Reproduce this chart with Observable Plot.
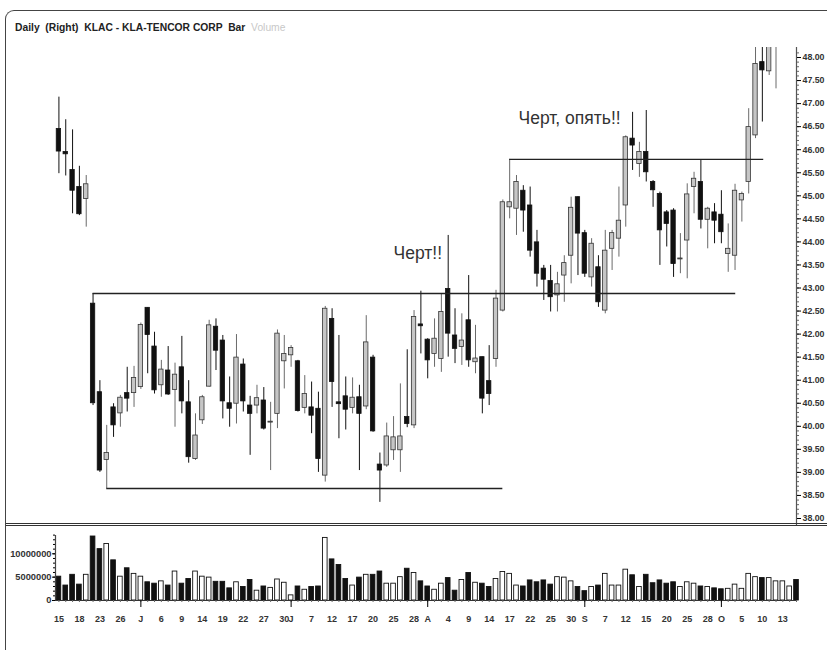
<!DOCTYPE html>
<html><head><meta charset="utf-8">
<script src="https://cdn.jsdelivr.net/npm/d3@7"></script>
<script src="https://cdn.jsdelivr.net/npm/@observablehq/plot@0.6"></script>
<style>
html,body{margin:0;padding:0;background:#fff;overflow:hidden}
#wrap{position:relative;width:827px;height:650px;overflow:hidden;background:#fff;font-family:"Liberation Sans",Arial,sans-serif}
#price{position:absolute;left:0;top:0}
#vol{position:absolute;left:0;top:526px}
#frame{position:absolute;left:5px;top:10px;width:900px;height:700px;border-left:1.5px solid #444;border-top:1.5px solid #444;border-top-left-radius:9px;pointer-events:none}
#divider{position:absolute;left:5px;top:523px;width:830px;height:0;border-top:1.5px solid #333;border-bottom:1.5px solid #333;padding-top:1px}
#title{position:absolute;left:15px;top:22px;font-weight:bold;font-size:10.3px;color:#222;white-space:pre}
#title span{color:#c8c8c8;font-weight:normal}
svg g[aria-label$="tick label"]{font-weight:bold;fill:#333}
</style></head>
<body><div id="wrap">
<div id="price"></div><div id="vol"></div>
<div id="divider"></div><div id="frame"></div>
<div id="title">Daily  (Right)  KLAC - KLA-TENCOR CORP  Bar  <span>Volume</span></div>
</div>
<script>
// ---- data ----
const opens  = [46.45,45.95,45.56,45.19,44.93,42.66,40.74,39.27,40.41,40.28,40.72,40.72,40.85,42.57,41.73,40.89,41.21,40.79,41.28,40.52,39.29,40.13,40.86,42.16,41.86,40.50,40.49,41.34,40.45,40.45,40.56,40.08,40.27,41.41,41.54,41.41,40.40,40.41,40.38,38.93,42.33,40.52,40.65,40.40,40.63,40.43,41.49,39.17,39.15,39.48,39.48,40.20,40.02,42.21,41.88,41.57,41.46,42.98,41.97,41.72,42.30,41.39,41.50,40.98,41.46,42.51,44.75,44.72,45.11,44.79,43.99,43.42,43.15,42.84,43.27,43.70,44.97,44.19,43.23,43.45,42.51,43.85,44.07,44.79,46.24,45.69,45.95,45.30,45.04,44.64,44.68,43.62,44.03,45.19,45.30,44.48,44.64,44.59,43.74,43.70,44.90,45.30,46.31,47.90,47.70,48.30];
const highs  = [47.14,46.65,46.43,45.64,45.44,42.88,40.99,40.02,40.49,40.67,41.28,41.30,42.24,42.57,42.04,41.43,41.73,41.37,41.95,40.99,40.27,40.67,42.30,42.33,41.97,41.07,41.99,41.46,40.65,40.89,40.84,40.52,42.09,41.97,41.75,41.43,41.10,40.96,40.74,42.60,42.55,41.97,41.07,41.05,40.89,42.40,41.54,39.42,40.07,40.21,40.92,41.66,42.51,42.93,41.90,42.33,42.87,44.14,42.55,42.44,43.27,42.19,41.50,41.75,42.95,44.91,45.79,45.44,45.22,45.19,44.25,43.49,43.49,43.34,43.70,44.97,44.98,44.25,44.07,43.70,44.25,44.25,45.19,46.30,46.81,46.16,46.85,45.33,45.08,44.68,44.72,44.18,45.26,45.51,45.77,44.75,44.83,45.11,44.39,45.25,45.08,46.89,48.30,48.30,48.60,48.60];
const lows   = [45.48,45.43,44.61,44.57,44.32,40.45,39.00,38.65,39.76,39.98,40.31,40.41,40.80,41.14,40.70,40.63,40.67,39.98,40.27,39.20,39.26,40.04,40.85,41.21,40.16,39.98,40.05,40.31,39.37,40.27,39.92,39.04,39.95,40.81,41.28,40.31,40.27,39.84,39.00,38.79,40.41,39.73,39.92,40.27,39.04,40.36,39.87,38.35,39.11,39.26,39.00,39.97,39.95,41.57,41.03,41.28,41.17,41.50,41.36,41.32,41.28,41.14,40.27,40.45,41.28,42.48,44.50,44.14,44.21,43.67,43.02,42.73,42.48,42.48,42.69,43.09,43.27,43.23,43.02,42.58,42.44,43.38,43.67,44.32,45.55,45.40,45.30,44.75,43.49,43.89,43.23,43.31,43.20,44.61,44.28,43.85,43.96,43.96,43.34,43.38,44.43,45.04,46.24,46.60,47.61,47.32];
const closes = [45.96,45.90,45.11,44.60,45.25,40.50,39.04,39.42,40.02,40.62,40.60,41.05,42.20,41.98,40.78,41.23,40.69,41.12,40.54,39.33,39.80,40.63,42.19,41.64,40.54,40.38,41.49,40.54,40.27,40.61,39.95,40.10,42.01,41.57,41.70,40.33,40.70,40.23,39.29,42.55,40.96,40.48,40.36,40.62,40.27,41.82,39.89,39.04,39.78,39.76,39.78,40.05,42.37,42.17,41.43,41.90,42.48,42.01,41.68,41.86,41.43,41.47,40.60,40.70,42.77,44.86,44.86,45.30,44.68,43.81,43.31,43.18,42.80,43.08,43.54,44.74,44.18,43.31,43.96,42.69,43.81,44.19,44.46,46.27,46.09,45.95,45.51,45.12,44.25,44.39,43.52,43.64,45.03,45.37,44.48,44.72,44.46,44.21,43.85,45.11,45.04,46.49,47.86,47.72,48.40,48.50];
// volume in millions of shares, one per trading day (109 days)
const volumes = [5.1,3.2,5.5,3.4,5.5,13.7,11.0,12.1,8.6,5.1,6.9,5.7,5.1,3.9,3.6,4.1,3.2,6.2,3.6,4.6,6.2,5.1,4.9,4.0,4.0,2.6,3.9,2.9,4.4,2.1,3.0,2.7,4.5,3.8,1.1,3.0,2.3,2.9,3.0,13.4,8.8,7.6,4.6,3.2,4.9,5.5,5.5,6.2,3.6,3.6,5.0,6.8,5.9,4.1,3.0,2.3,3.6,4.8,2.1,4.4,5.9,3.8,3.6,2.9,4.6,6.1,5.7,3.2,3.0,4.3,3.9,4.3,3.4,5.0,4.9,4.1,2.9,2.0,2.9,3.2,5.7,3.2,3.2,6.6,5.4,2.9,5.5,3.7,4.3,3.6,3.9,2.9,3.9,3.6,3.0,2.9,2.6,2.4,2.5,3.4,2.5,5.7,5.0,4.8,4.8,4.1,4.1,3.0,4.4];
// direction of the last days whose candles run off the top of the chart
const lateDirections = ["up","up","down"];
// date tick labels (trading-day index -> label)
const tickIndex  = [0,3,6,9,12,15,18,21,24,27,30,33,34,37,40,43,46,49,52,54,57,60,63,66,69,72,75,77,80,83,86,89,92,95,97,100,103,106];
const tickLabels = ["15","18","23","26","J","6","9","14","19","22","27","30","J","7","12","17","20","25","28","A","4","9","14","17","22","25","30","S","7","12","15","20","25","28","O","5","10","13"];
const monthStarts = [12,34,54,77,97];
const priceTicks = d3.range(76, 97).map(d => d / 2);
const volumeTicks = [0, 5e6, 1e7];
// drawn levels: price, first day, last day
const levelPrices = [42.88, 38.65, 45.79];
const levelFrom   = [5, 7, 66];
const levelTo     = [99.1, 65, 103.2];
const noteTexts = ["Черт!!", "Черт, опять!!"];
const noteDay   = [49.0, 67.3];
const notePrice = [43.75, 46.68];

// ---- build tables ----
const candles = opens.map((o, i) => ({i, open: o, high: highs[i], low: lows[i], close: closes[i], up: closes[i] >= o}));
const vols = volumes.map((v, i) => ({i, v: v * 1e6, up: i < candles.length ? candles[i].up : lateDirections[i - candles.length] === "up"}));
const levels = levelPrices.map((p, k) => ({p, a: levelFrom[k], b: levelTo[k]}));
const notes = noteTexts.map((t, k) => ({t, x: noteDay[k], y: notePrice[k]}));
const labelOf = new Map(tickIndex.map((d, k) => [d, tickLabels[k]]));
const xDomain = [-0.5, volumes.length - 1];
const W = 827, ML = 55, MR = 31;
const font = '"Liberation Sans", Arial, sans-serif';

const price = Plot.plot({
  width: W, height: 525, marginTop: 47, marginBottom: 0, marginLeft: ML, marginRight: MR,
  style: {background: "transparent", overflow: "visible", fontFamily: font},
  x: {domain: xDomain, axis: null, label: null},
  y: {domain: [38, 48], range: [518, 57], label: null},
  color: {type: "identity"},
  marks: [
    Plot.ruleX([xDomain[1]], {stroke: "#555", strokeWidth: 1.2}),
    Plot.axisY(d3.range(380, 482).map(d => d / 10), {anchor: "right", tickSize: 2, tickFormat: () => "", label: null, stroke: "#666"}),
    Plot.axisY(priceTicks, {anchor: "right", tickSize: 4, tickPadding: 2, tickFormat: d3.format(".2f"), fontSize: 8.8, label: null}),
    Plot.ruleX(candles, {x: "i", y1: "low", y2: "high", stroke: d => d.up ? "#6a6a6a" : "#111", strokeWidth: 1, clip: true}),
    Plot.rect(candles, {x1: d => d.i - 0.32, x2: d => d.i + 0.32, y1: "open", y2: "close", fill: d => d.up ? "#c6c6c6" : "#111", stroke: d => d.up ? "#333" : "#111", strokeWidth: 0.8, clip: true}),
    Plot.ruleY(levels, {y: "p", x1: "a", x2: "b", stroke: "#222", strokeWidth: 1.4}),
    Plot.text(notes, {x: "x", y: "y", text: "t", textAnchor: "start", fontSize: 17.5, fill: "#333", fontFamily: font})
  ]
});
document.getElementById("price").appendChild(price);

const vol = Plot.plot({
  width: W, height: 124, marginTop: 9, marginBottom: 50, marginLeft: ML, marginRight: MR,
  style: {background: "transparent", overflow: "visible", fontFamily: font},
  x: {domain: xDomain, label: null},
  y: {domain: [0, 1e7], range: [74, 27.3], label: null},
  color: {type: "identity"},
  marks: [
    Plot.rect(vols, {x1: d => d.i - 0.34, x2: d => d.i + 0.34, y1: 0, y2: "v", fill: d => d.up ? "#fff" : "#111", stroke: "#111", strokeWidth: 0.9}),
    Plot.ruleY([0], {stroke: "#333", strokeWidth: 1.2}),
    Plot.ruleX([xDomain[0]], {stroke: "#444", strokeWidth: 1.2}),
    Plot.axisY(d3.range(0, 15).map(d => d * 1e6), {anchor: "left", tickSize: 2, tickFormat: () => "", label: null}),
    Plot.axisY(volumeTicks, {anchor: "left", tickSize: 3, tickPadding: 1, tickFormat: d3.format("d"), fontSize: 9.3, label: null}),
    Plot.axisX(d3.range(0, volumes.length), {anchor: "bottom", tickSize: 2, tickFormat: () => "", label: null, stroke: "#666"}),
    Plot.axisX(monthStarts, {anchor: "bottom", tickSize: 7, tickFormat: () => "", label: null}),
    Plot.axisX(tickIndex, {anchor: "bottom", tickSize: 0, tickPadding: 15, tickFormat: d => labelOf.get(d), fontSize: 9, label: null})
  ]
});
document.getElementById("vol").appendChild(vol);
</script>
</body></html>
